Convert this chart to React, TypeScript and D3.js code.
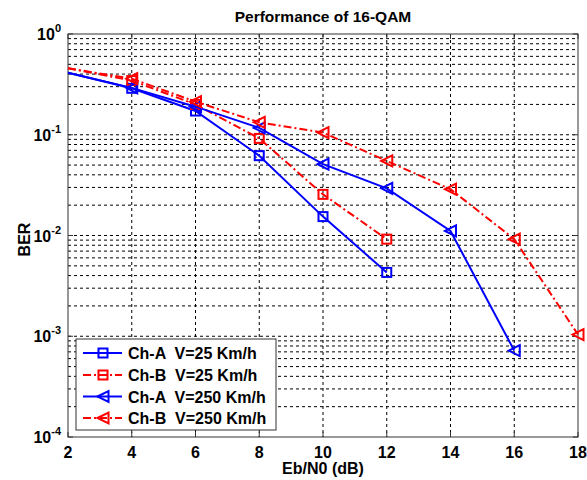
import React from "react";
import * as d3 from "d3";

const xTicks = [2, 4, 6, 8, 10, 12, 14, 16, 18];
const yExponents = [0, -1, -2, -3, -4];

const chA25X = [2, 4, 6, 8, 10, 12];
const chA25Y = [0.413, 0.289, 0.172, 0.062, 0.0154, 0.0043];
const chB25X = [2, 4, 6, 8, 10, 12];
const chB25Y = [0.457, 0.345, 0.2, 0.092, 0.0256, 0.0092];
const chA250X = [2, 4, 6, 8, 10, 12, 14, 16];
const chA250Y = [0.413, 0.292, 0.19, 0.117, 0.051, 0.0294, 0.0111, 0.00072];
const chB250X = [2, 4, 6, 8, 10, 12, 14, 16, 18];
const chB250Y = [0.457, 0.36, 0.213, 0.133, 0.105, 0.055, 0.0288, 0.0092, 0.00104];

const seriesNames = ["Ch-A  V=25 Km/h", "Ch-B  V=25 Km/h", "Ch-A  V=250 Km/h", "Ch-B  V=250 Km/h"];

const W = 587, H = 480;
const L = 68, R = 578, T = 34, B = 437;
const FONT = "Arial, 'Liberation Sans', sans-serif";

export default function App() {
  const x = d3.scaleLinear().domain([2, 18]).range([L, R]);
  const y = d3.scaleLog().domain([1e-4, 1]).range([B, T]);

  const series = [
    { xs: chA25X, ys: chA25Y, color: "#0000ff", dash: "", marker: "square" },
    { xs: chB25X, ys: chB25Y, color: "#ff0000", dash: "8,3,2,3", marker: "square" },
    { xs: chA250X, ys: chA250Y, color: "#0000ff", dash: "", marker: "tri" },
    { xs: chB250X, ys: chB250Y, color: "#ff0000", dash: "8,3,2,3", marker: "tri" },
  ];

  const line = d3.line<[number, number]>().x((d) => x(d[0])).y((d) => y(d[1]));

  const minor: number[] = [];
  for (let e = -4; e < 0; e++) {
    for (let m = 2; m <= 9; m++) minor.push(m * Math.pow(10, e));
  }

  const marker = (type: string, cx: number, cy: number, color: string, key: string) => {
    if (type === "square") {
      const s = 9;
      return <rect key={key} x={cx - s / 2} y={cy - s / 2} width={s} height={s} fill="none" stroke={color} strokeWidth={2} />;
    }
    const s = 5.5;
    const pts = `${cx - s},${cy} ${cx + s},${cy - s} ${cx + s},${cy + s}`;
    return <polygon key={key} points={pts} fill="none" stroke={color} strokeWidth={2} />;
  };

  const legX = 76, legY = 339, legW = 200, legH = 91;
  const legRows = [353, 375, 396.5, 418];

  return (
    <svg width={W} height={H} style={{ display: "block", position: "absolute", left: 0, top: 0 }}>
      <rect x={0} y={0} width={W} height={H} fill="#fff" />
      <g stroke="#000" strokeWidth={1} strokeDasharray="3,3" fill="none">
        {xTicks.slice(1, -1).map((t) => (
          <line key={"vx" + t} x1={x(t)} x2={x(t)} y1={T} y2={B} />
        ))}
        {yExponents.slice(1, -1).map((e) => (
          <line key={"hy" + e} x1={L} x2={R} y1={y(Math.pow(10, e))} y2={y(Math.pow(10, e))} />
        ))}
        {minor.map((v, i) => (
          <line key={"mn" + i} x1={L} x2={R} y1={y(v)} y2={y(v)} />
        ))}
      </g>
      <rect x={L} y={T} width={R - L} height={B - T} fill="none" stroke="#333" strokeWidth={1} />
      <g stroke="#333" strokeWidth={1}>
        {xTicks.map((t) => (
          <g key={"xt" + t}>
            <line x1={x(t)} x2={x(t)} y1={B} y2={B - 5} />
            <line x1={x(t)} x2={x(t)} y1={T} y2={T + 5} />
          </g>
        ))}
        {yExponents.map((e) => (
          <g key={"yt" + e}>
            <line x1={L} x2={L + 5} y1={y(Math.pow(10, e))} y2={y(Math.pow(10, e))} />
            <line x1={R} x2={R - 5} y1={y(Math.pow(10, e))} y2={y(Math.pow(10, e))} />
          </g>
        ))}
      </g>
      {series.map((s, i) => {
        const pts = s.xs.map((v, j) => [v, s.ys[j]] as [number, number]);
        return (
          <g key={"s" + i}>
            <path d={line(pts) || ""} fill="none" stroke={s.color} strokeWidth={2} strokeDasharray={s.dash} />
            {pts.map((p, j) => (j === 0 ? null : marker(s.marker, x(p[0]), y(p[1]), s.color, "m" + i + "-" + j)))}
          </g>
        );
      })}
      <g fontFamily={FONT} fontWeight="bold" fontSize={16} fill="#000">
        {xTicks.map((t) => (
          <text key={"xl" + t} x={x(t)} y={B + 21} textAnchor="middle">{t}</text>
        ))}
        {yExponents.map((e) => (
          <text key={"yl" + e} x={L - 7} y={y(Math.pow(10, e)) + 6} textAnchor="end">
            <tspan>10</tspan>
            <tspan dy={-8} fontSize={11}>{e}</tspan>
          </text>
        ))}
      </g>
      <text x={(L + R) / 2} y={22} textAnchor="middle" fontFamily={FONT} fontWeight="bold" fontSize={15.5}>
        Performance of 16-QAM
      </text>
      <text x={(L + R) / 2} y={474} textAnchor="middle" fontFamily={FONT} fontWeight="bold" fontSize={16}>
        Eb/N0 (dB)
      </text>
      <text transform={`translate(30,${(T + B) / 2 + 4}) rotate(-90)`} textAnchor="middle" fontFamily={FONT} fontWeight="bold" fontSize={16}>
        BER
      </text>
      <rect x={legX} y={legY} width={legW} height={legH} fill="#fff" stroke="#333" strokeWidth={1} />
      {series.map((s, i) => (
        <g key={"lg" + i}>
          <line x1={83} x2={122} y1={legRows[i]} y2={legRows[i]} stroke={s.color} strokeWidth={2} strokeDasharray={s.dash} />
          {marker(s.marker, 103, legRows[i], s.color, "lm" + i)}
          <text x={128} y={legRows[i] + 6} fontFamily={FONT} fontWeight="bold" fontSize={16} style={{ whiteSpace: "pre" }}>
            {seriesNames[i]}
          </text>
        </g>
      ))}
    </svg>
  );
}
